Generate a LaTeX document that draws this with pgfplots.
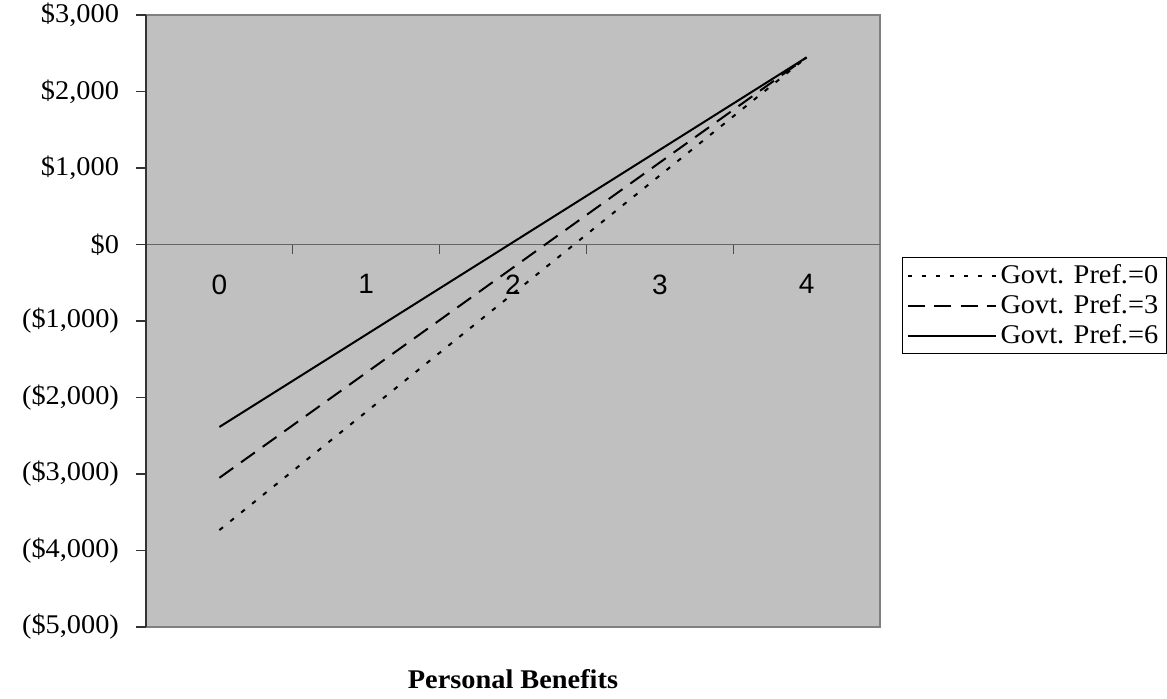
\documentclass[border=0pt]{standalone}
\usepackage{pgfplots}
\pgfplotsset{compat=1.18}
\usepackage{fontspec}
\setmainfont{Liberation Serif}[FakeStretch=1.05]
\newfontfamily\arialf{Liberation Sans}

\definecolor{plotbg}{HTML}{C0C0C0}
\definecolor{framegray}{HTML}{808080}

\pgfplotstableread{
x pref0 pref3 pref6
0 -3733 -3050 -2385
1 -2188 -1676 -1178
2 -643  -302  30
3 902   1072  1238
4 2446  2446  2446
}\benefits

\begin{document}
\begin{tikzpicture}
\path[use as bounding box] (-73pt,-35.5pt) rectangle (510.5pt,313.5pt);
\begin{axis}[
  scale only axis,
  width=367pt, height=306pt,
  xmin=-0.5, xmax=4.5,
  ymin=-5000, ymax=3000,
  axis x line=middle,
  axis y line=left,
  axis line style={-},
  x axis line style={draw=black!60, line width=0.6pt},
  y axis line style={draw=black!80, line width=1pt},
  axis background/.style={fill=plotbg, draw=framegray, line width=1.2pt},
  xtick={0,1,2,3,4},
  minor xtick={0.5,1.5,2.5,3.5},
  major x tick style={draw=none},
  minor x tick style={draw=black!70, line width=0.6pt},
  xtick align=outside,
  ytick align=outside,
  major tick length=5pt,
  minor tick length=4.5pt,
  ytick={-5000,-4000,...,3000},
  yticklabels={{(\$5,000)},{(\$4,000)},{(\$3,000)},{(\$2,000)},{(\$1,000)},{\$0},{\$1,000},{\$2,000},{\$3,000}},
  y tick style={draw=black!80, line width=0.6pt},
  xticklabels={0,1,2,3,4},
  xticklabel style={font=\arialf\fontsize{14}{16}\selectfont, yshift=-6.5pt},
  yticklabel style={font=\fontsize{13.5}{16}\selectfont, xshift=-5pt},
  xlabel={\textbf{Personal Benefits}},
  every axis x label/.style={at={(axis description cs:0.5,0)}, anchor=center, yshift=-26pt, font=\fontsize{13.5}{16}\selectfont},
  legend style={at={(1.03,0.604)}, anchor=north west, draw=black, fill=white,
    line width=0.5pt, font=\fontsize{13.5}{16}\selectfont, inner xsep=2pt, inner ysep=1.5pt,
    row sep=0pt, cells={anchor=west}},
  legend image code/.code={\draw[#1] (0pt,0pt) -- (44pt,0pt);},
]
\addplot[black, line width=1pt, dash pattern=on 2.3pt off 4.7pt] table[x=x, y=pref0] {\benefits};
\addlegendentry{Govt. Pref.=0}
\addplot[black, line width=1pt, dash pattern=on 8.5pt off 4.8pt] table[x=x, y=pref3] {\benefits};
\addlegendentry{Govt. Pref.=3}
\addplot[black, line width=1pt] table[x=x, y=pref6] {\benefits};
\addlegendentry{Govt. Pref.=6}
\end{axis}
\end{tikzpicture}
\end{document}
